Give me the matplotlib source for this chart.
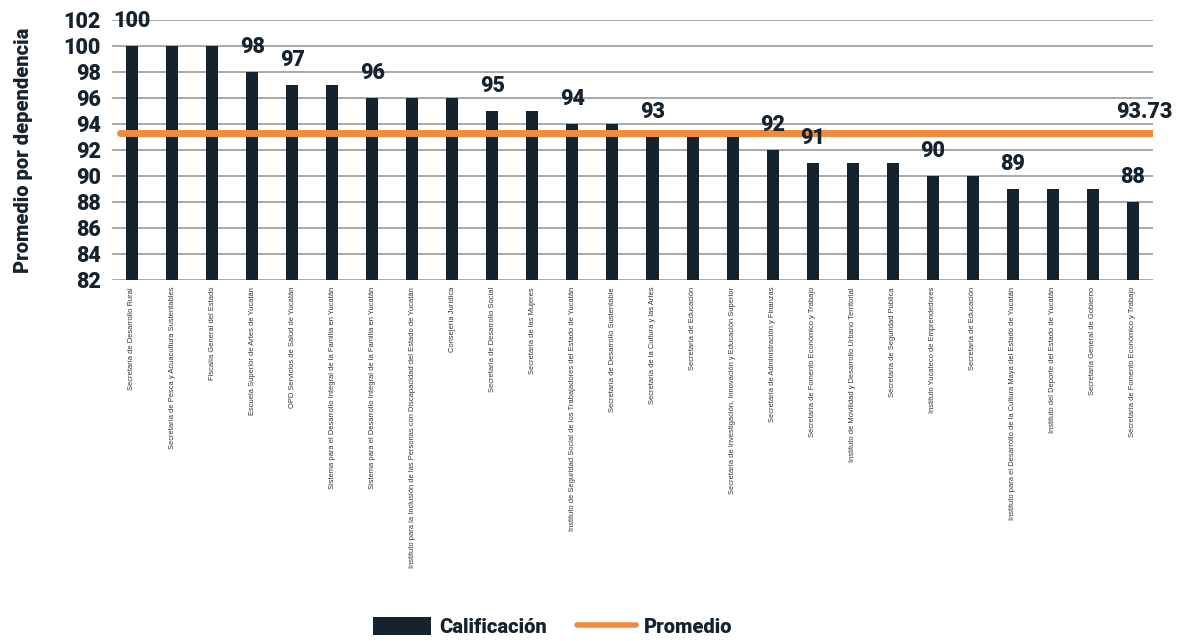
import matplotlib.pyplot as plt
from matplotlib.patches import Patch
from matplotlib.lines import Line2D

dependencias = [
    "Secretaría de Desarrollo Rural",
    "Secretaría de Pesca y Acuacultura Sustentables",
    "Fiscalía General del Estado",
    "Escuela Superior de Artes de Yucatán",
    "OPD Servicios de Salud de Yucatán",
    "Sistema para el Desarrollo Integral de la Familia en Yucatán",
    "Sistema para el Desarrollo Integral de la Familia en Yucatán",
    "Instituto para la Inclusión de las Personas con Discapacidad del Estado de Yucatán",
    "Consejería Jurídica",
    "Secretaría de Desarrollo Social",
    "Secretaría de las Mujeres",
    "Instituto de Seguridad Social de los Trabajadores del Estado de Yucatán",
    "Secretaría de Desarrollo Sustentable",
    "Secretaría de la Cultura y las Artes",
    "Secretaría de Educación",
    "Secretaría de Investigación, Innovación y Educación Superior",
    "Secretaría de Administración y Finanzas",
    "Secretaría de Fomento Económico y Trabajo",
    "Instituto de Movilidad y Desarrollo Urbano Territorial",
    "Secretaría de Seguridad Pública",
    "Instituto Yucateco de Emprendedores",
    "Secretaría de Educación",
    "Instituto para el Desarrollo de la Cultura Maya del Estado de Yucatán",
    "Instituto del Deporte del Estado de Yucatán",
    "Secretaría General de Gobierno",
    "Secretaría de Fomento Económico y Trabajo",
]
calificacion = [100, 100, 100, 98, 97, 97, 96, 96, 96, 95, 95, 94, 94,
                93, 93, 93, 92, 91, 91, 91, 90, 90, 89, 89, 89, 88]
promedio_texto = "93.73"
promedio_linea = 93.3  # position of the orange line as drawn in the reference
yticks = list(range(82, 103, 2))

navy = "#15232f"
orange = "#f28a3c"

fig = plt.figure(figsize=(11.81, 6.41), dpi=100)
ax = fig.add_axes([0.0948, 0.5632, 0.8815, 0.4056])

x = list(range(len(calificacion)))
ax.bar(x, calificacion, width=0.3, color=navy, zorder=3)
ax.plot([-0.3, len(x) - 0.45], [promedio_linea, promedio_linea], color=orange,
        linewidth=5, solid_capstyle="round", zorder=4)

ax.set_xlim(-0.5, len(x) - 0.5)
ax.set_ylim(82, 102)
ax.set_yticks(yticks)
ax.set_yticklabels([str(t) for t in yticks], fontsize=15.5, fontweight="heavy",
                   color=navy, family="Roboto")
ax.yaxis.grid(True, color="#9a9a9a", linewidth=1.2, zorder=0)
ax.tick_params(axis="y", length=0, pad=8)
ax.tick_params(axis="x", length=0, pad=5)
ax.set_xticks(x)
ax.set_xticklabels(dependencias, rotation=90, fontsize=5.4, color="#333333",
                   va="top", family="Liberation Sans")
for s in ax.spines.values():
    s.set_visible(False)

ax.set_ylabel("Promedio por dependencia", fontsize=14.5, fontweight="heavy",
              color=navy, family="Roboto", labelpad=22)

# label only the first bar of each value
vistos = set()
for i, v in enumerate(calificacion):
    if v in vistos:
        continue
    vistos.add(v)
    ax.annotate(str(v), (i, v), xytext=(0, 10), textcoords="offset points",
                ha="center", va="bottom", fontsize=15.5, fontweight="heavy",
                color=navy, family="Roboto", zorder=5)

ax.annotate(promedio_texto, (len(x) - 0.5, promedio_linea), xytext=(14, 7),
            textcoords="offset points", ha="right", va="bottom", fontsize=15.5,
            fontweight="heavy", color=navy, family="Roboto", annotation_clip=False)

handles = [Patch(facecolor=navy, edgecolor="none"),
           Line2D([0], [0], color=orange, linewidth=4, solid_capstyle="round")]
fig.legend(handles, ["Calificación", "Promedio"], loc="center",
           bbox_to_anchor=(0.468, 0.022), ncol=2, frameon=False,
           handlelength=2.9, handleheight=1.0, columnspacing=1.5, handletextpad=0.4,
           prop={"family": "Roboto", "weight": "heavy", "size": 14.5})
for t in fig.legends[0].get_texts():
    t.set_color(navy)

fig.savefig("out.png", dpi=100)
